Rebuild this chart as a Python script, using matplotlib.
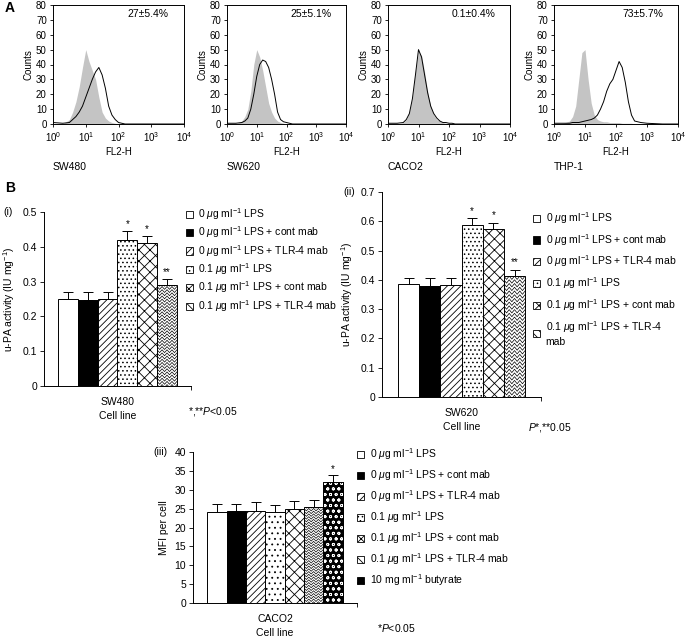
import numpy as np
import matplotlib
matplotlib.use("Agg")
import matplotlib.pyplot as plt
from matplotlib.patches import Patch

plt.rcParams['font.family'] = ['Liberation Sans', 'DejaVu Sans']
plt.rcParams['font.size'] = 7
plt.rcParams['mathtext.fontset'] = 'custom'
plt.rcParams['mathtext.rm'] = 'Liberation Sans'
plt.rcParams['mathtext.it'] = 'Liberation Sans:italic'
plt.rcParams['hatch.linewidth'] = 0.6

# ---- panel A: flow cytometry histograms (log10 of FL2-H channel) ----
log_fl = [0.0, 0.3, 0.5, 0.6, 0.7, 0.8, 0.9, 1.0, 1.1, 1.2, 1.3, 1.4,
          1.5, 1.6, 1.7, 1.8, 1.9, 2.0, 2.1, 2.2, 2.3, 2.4, 2.5, 2.6,
          2.8, 3.0, 3.5, 4.0]
cell_lines = ["SW480", "SW620", "CACO2", "THP-1"]
positive = ["27\u00b15.4%", "25\u00b15.1%", "0.1\u00b10.4%", "73\u00b15.7%"]
isotype = [
    [0, 0, 3, 8, 15, 25, 38, 50, 42, 36, 30, 18, 8, 4, 2, 1, 0.5, 0,
     0, 0, 0, 0, 0, 0, 0, 0, 0, 0],
    [0, 0, 2, 5, 10, 22, 40, 50, 45, 36, 25, 14, 8, 4, 2, 1, 0.5, 0,
     0, 0, 0, 0, 0, 0, 0, 0, 0, 0],
    [0, 0, 1, 3, 8, 18, 35, 49, 46, 35, 22, 12, 6, 3, 2, 1, 0.5, 0.5,
     0, 0, 0, 0, 0, 0, 0, 0, 0, 0],
    [0, 0.5, 2, 5, 12, 30, 48, 50, 30, 14, 6, 3, 2, 1.5, 1.5, 1, 1, 1,
     1, 0.5, 0.5, 0.5, 0.5, 0, 0, 0, 0, 0],
]
stained = [
    [1, 0.5, 1, 3, 5, 8, 12, 18, 24, 30, 35, 38, 33, 24, 12, 6, 3, 1,
     0.5, 0, 0, 0, 0, 0, 0, 0, 0, 0],
    [0.5, 0.5, 1, 2, 4, 10, 20, 32, 40, 43, 42, 38, 30, 20, 8, 3, 1.5, 1,
     0.5, 0, 0, 0, 0, 0, 0, 0, 0, 0],
    [0.5, 0.5, 1, 3, 7, 17, 33, 50, 45, 33, 21, 12, 7, 4, 2, 1, 1, 0.5,
     0.5, 0, 0, 0, 0, 0, 0, 0, 0, 0],
    [0.5, 0.5, 0.5, 1, 1, 1, 1.5, 2, 2.5, 3, 4, 6, 10, 15, 22, 27, 30, 36,
     42, 38, 28, 15, 6, 2, 1, 0.5, 0, 0],
]

# ---- panel B: bar charts ----
labels_6 = [r"0 $\mu$g ml$^{-1}$ LPS",
            r"0 $\mu$g ml$^{-1}$ LPS + cont mab",
            r"0 $\mu$g ml$^{-1}$ LPS + TLR-4 mab",
            r"0.1 $\mu$g ml$^{-1}$ LPS",
            r"0.1 $\mu$g ml$^{-1}$ LPS + cont mab",
            r"0.1 $\mu$g ml$^{-1}$ LPS + TLR-4 mab"]
labels_7 = labels_6 + [r"10 mg ml$^{-1}$ butyrate"]

sw480_upa = [0.25, 0.248, 0.25, 0.42, 0.41, 0.29]
sw480_err = [0.021, 0.023, 0.021, 0.024, 0.02, 0.018]
sw480_sig = ["", "", "", "*", "*", "**"]

sw620_upa = [0.387, 0.38, 0.383, 0.588, 0.572, 0.412]
sw620_err = [0.02, 0.026, 0.023, 0.022, 0.023, 0.022]
sw620_sig = ["", "", "", "*", "*", "**"]

caco2_mfi = [24.0, 24.3, 24.5, 24.0, 25.0, 25.3, 32.0]
caco2_err = [2.2, 2.0, 2.2, 2.0, 2.0, 2.0, 1.8]
caco2_sig = ["", "", "", "", "", "", "*"]

W, H = 685, 638


def fig_rect(left, top, right, bottom):
    # pixel box -> figure fraction
    return [left / W, 1 - bottom / H, (right - left) / W, (bottom - top) / H]


def flow_panel(fig, box, iso, stain, pct, name):
    ax = fig.add_axes(fig_rect(*box))
    x = [10 ** v for v in log_fl]
    ax.fill_between(x, iso, color="#c4c4c4", lw=0)
    ax.plot(x, stain, color="black", lw=0.7)
    ax.set_xscale("log")
    ax.set_xlim(1, 1e4)
    ax.set_ylim(0, 80)
    ax.set_yticks(range(0, 81, 10))
    ax.set_xticks([1, 10, 100, 1000, 10000])
    ax.set_xticklabels([r"10$^{%d}$" % i for i in range(5)])
    ax.tick_params(length=2.5, width=0.6, labelsize=7, pad=2)
    ax.tick_params(which="minor", length=1.5, width=0.5)
    for s in ax.spines.values():
        s.set_linewidth(0.7)
    ax.set_xlabel("FL2-H", fontsize=7, labelpad=2)
    ax.set_ylabel("Counts", fontsize=7, labelpad=2)
    ax.text(0.88, 0.9, pct, transform=ax.transAxes, ha="right", fontsize=7.5)
    ax.text(0.0, -0.36, name, transform=ax.transAxes, ha="left",
            va="center", fontsize=7.5)
    return ax


def add_wavy(ax, bar, step):
    x0, w, h = bar.get_x(), bar.get_width(), bar.get_height()
    xs = x0 + w * np.linspace(0, 1, 9)
    amp = step * 0.45
    for base in np.arange(0, h + step, step):
        ys = base + amp * np.array([(-1) ** k for k in range(9)])
        ln, = ax.plot(xs, ys, color="black", lw=0.5)
        ln.set_clip_path(bar)


def bar_panel(fig, box, values, errs, sigs, cat, ylim, yticks, fmt, xlim,
              dots="...."):
    ax = fig.add_axes(fig_rect(*box))
    n = len(values)
    xs = np.arange(n)
    faces = ["white", "black", "white", "white", "white", "white", "black"]
    hatches = [None, None, "/////", dots, "xxx", None, None]
    bars = ax.bar(xs, values, width=1.0, color=faces[:n],
                  edgecolor="black", lw=0.7, zorder=2)
    for b, h in zip(bars, hatches):
        if h:
            b.set_hatch(h)
    add_wavy(ax, bars[5], ylim[1] / 55)
    if n == 7:
        ax.bar(xs[6], values[6], width=1.0, facecolor="none",
               edgecolor="white", hatch="ooo", lw=0, zorder=3)
        ax.bar(xs[6], values[6], width=1.0, facecolor="none",
               edgecolor="black", lw=0.7, zorder=4)
    ax.errorbar(xs, values, yerr=[[0] * n, errs], fmt="none",
                ecolor="black", elinewidth=0.7, capsize=3.5, capthick=0.7,
                zorder=1)
    for xi, v, e, s in zip(xs, values, errs, sigs):
        if s:
            ax.text(xi, v + e + ylim[1] * 0.012, s, ha="center",
                    va="bottom", fontsize=7)
    ax.set_xlim(*xlim)
    ax.set_ylim(*ylim)
    ax.set_yticks(yticks)
    ax.set_yticklabels([fmt(t) for t in yticks])
    ax.set_xticks([(n - 1) / 2])
    ax.set_xticklabels([cat])
    ax.set_xticks([xlim[1]], minor=True)
    ax.set_xlabel("Cell line", fontsize=7.5, labelpad=3)
    ax.spines["top"].set_visible(False)
    ax.spines["right"].set_visible(False)
    for s in ("left", "bottom"):
        ax.spines[s].set_linewidth(0.7)
    ax.tick_params(axis="y", length=3, width=0.6, labelsize=7.5, pad=2)
    ax.tick_params(axis="x", length=0, labelsize=7.5, pad=8)
    ax.tick_params(axis="x", which="minor", length=3, width=0.6)
    return ax, bars


def legend_handles(n):
    faces = ["white", "black", "white", "white", "white", "white", "black"]
    hatches = [None, None, "/////", "....", "xxx", "\\\\\\\\", "ooo"]
    return [Patch(facecolor=faces[i], edgecolor="black", hatch=hatches[i],
                  lw=0.6) for i in range(n)]


def main():
    fig = plt.figure(figsize=(W / 100, H / 100), dpi=100)

    boxes_a = [(53, 5, 184, 124), (227, 5, 346, 124),
               (388, 5, 510, 124), (554, 5, 678, 124)]
    for i in range(4):
        flow_panel(fig, boxes_a[i], isotype[i], stained[i], positive[i],
                   cell_lines[i])

    # (i) SW480
    ax1, _ = bar_panel(fig, (44, 212, 191, 386), sw480_upa, sw480_err,
                       sw480_sig, "SW480", (0, 0.5),
                       [0, 0.1, 0.2, 0.3, 0.4, 0.5],
                       lambda t: "0" if t == 0 else "%.1f" % t,
                       (2.5 - 3.71, 2.5 + 3.71))
    ax1.set_ylabel(r"u-PA activity (IU mg$^{-1}$)", fontsize=7.5,
                   labelpad=4)

    # (ii) SW620
    ax2, _ = bar_panel(fig, (382, 192, 541, 397), sw620_upa, sw620_err,
                       sw620_sig, "SW620", (0, 0.7),
                       [0, 0.1, 0.2, 0.3, 0.4, 0.5, 0.6, 0.7],
                       lambda t: "0" if t == 0 else "%.1f" % t,
                       (2.5 - 3.75, 2.5 + 3.75))
    ax2.set_ylabel(r"u-PA activity (IU mg$^{-1}$)", fontsize=7.5,
                   labelpad=4)

    # (iii) CACO2
    ax3, _ = bar_panel(fig, (193, 452, 357, 603), caco2_mfi, caco2_err,
                       caco2_sig, "CACO2", (0, 40), list(range(0, 41, 5)),
                       lambda t: "%d" % t, (3 - 4.25, 3 + 4.25), dots="...")
    ax3.set_ylabel("MFI per cell", fontsize=7.5, labelpad=4)

    # panel tags
    fig.text(3 / W, 1 - 212 / H, "(i)", fontsize=7.5, va="center")
    fig.text(343 / W, 1 - 192 / H, "(ii)", fontsize=7.5, va="center")
    fig.text(153 / W, 1 - 452 / H, "(iii)", fontsize=7.5, va="center")

    legend_kw = dict(loc="upper left", frameon=False, borderpad=0,
                     borderaxespad=0, handlelength=0.7, handleheight=0.7,
                     handletextpad=0.5, fontsize=7.5)
    fig.legend(legend_handles(6), labels_6,
               bbox_to_anchor=(186 / W, 1 - 206 / H), labelspacing=0.25,
               **legend_kw)
    labels_ii = labels_6[:5] + [r"0.1 $\mu$g ml$^{-1}$ LPS + TLR-4" + "\nmab"]
    fig.legend(legend_handles(6), labels_ii,
               bbox_to_anchor=(533 / W, 1 - 210 / H), labelspacing=0.58,
               **legend_kw)
    fig.legend(legend_handles(7), labels_7,
               bbox_to_anchor=(357 / W, 1 - 446 / H), labelspacing=0.5,
               **legend_kw)

    fig.text(188 / W, 1 - 412 / H, r"*,**$P$<0.05", fontsize=7.5,
             va="center")
    fig.text(528 / W, 1 - 427 / H, r"$P$*,**0.05", fontsize=7.5,
             va="center")
    fig.text(377 / W, 1 - 628 / H, r"*$P$<0.05", fontsize=7.5, va="center")

    fig.text(5 / W, 1 - 8 / H, "A", fontsize=10, fontweight="bold",
             va="center")
    fig.text(5 / W, 1 - 188 / H, "B", fontsize=10, fontweight="bold",
             va="center")

    fig.savefig("out.png", dpi=100)
    return 0


if __name__ == "__main__":
    main()
